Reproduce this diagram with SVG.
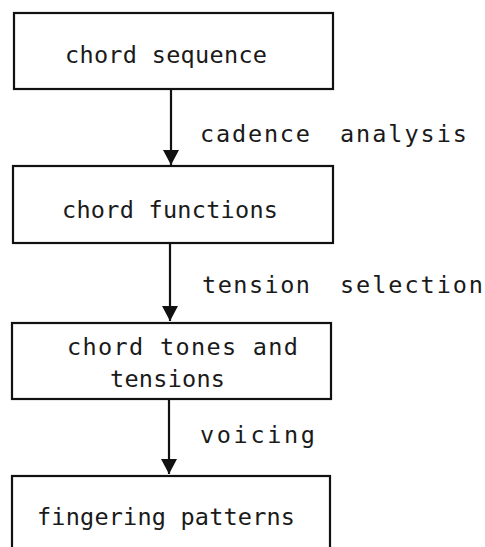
<svg xmlns="http://www.w3.org/2000/svg" width="485" height="547" viewBox="0 0 485 547">
  <style>
    .box { fill: #fff; stroke: #111; stroke-width: 2.2; }
    .lbl { font-family: "DejaVu Sans Mono", "Liberation Mono", monospace; font-size: 23.5px; fill: #1a1a1a; }
    .edge { stroke: #111; stroke-width: 2.2; fill: none; }
  </style>
  <defs>
    <marker id="arrow" viewBox="0 0 16 17" refX="16" refY="8.5" markerWidth="17" markerHeight="16" markerUnits="userSpaceOnUse" orient="auto">
      <path d="M0,0 L16,8.5 L0,17 Z" fill="#111"/>
    </marker>
  </defs>
  <rect width="485" height="547" fill="#fff"/>

  <g id="chord-sequence">
    <rect class="box" x="14" y="13" width="319" height="76"/>
    <text class="lbl" x="65" y="63" textLength="202" lengthAdjust="spacing">chord sequence</text>
  </g>

  <g id="chord-functions">
    <rect class="box" x="13" y="166" width="320" height="77"/>
    <text class="lbl" x="62" y="218" textLength="216" lengthAdjust="spacing">chord functions</text>
  </g>

  <g id="chord-tones">
    <rect class="box" x="12" y="323" width="319" height="76"/>
    <text class="lbl" x="67" y="355" textLength="231" lengthAdjust="spacing">chord tones and</text>
    <text class="lbl" x="110" y="387" textLength="115" lengthAdjust="spacing">tensions</text>
  </g>

  <g id="fingering-patterns">
    <rect class="box" x="12" y="476" width="318" height="90"/>
    <text class="lbl" x="37" y="525" textLength="258" lengthAdjust="spacing">fingering patterns</text>
  </g>

  <g id="connectors">
    <line class="edge" x1="171" y1="89" x2="171" y2="165" marker-end="url(#arrow)"/>
    <line class="edge" x1="170" y1="243" x2="170" y2="321" marker-end="url(#arrow)"/>
    <line class="edge" x1="169" y1="399" x2="169" y2="474" marker-end="url(#arrow)"/>
    <text class="lbl" y="142"><tspan x="200" textLength="110" lengthAdjust="spacing">cadence</tspan><tspan x="340" textLength="127" lengthAdjust="spacing">analysis</tspan></text>
    <text class="lbl" y="293"><tspan x="202" textLength="108" lengthAdjust="spacing">tension</tspan><tspan x="340" textLength="143" lengthAdjust="spacing">selection</tspan></text>
    <text class="lbl" x="200" y="443" textLength="115" lengthAdjust="spacing">voicing</text>
  </g>
</svg>
